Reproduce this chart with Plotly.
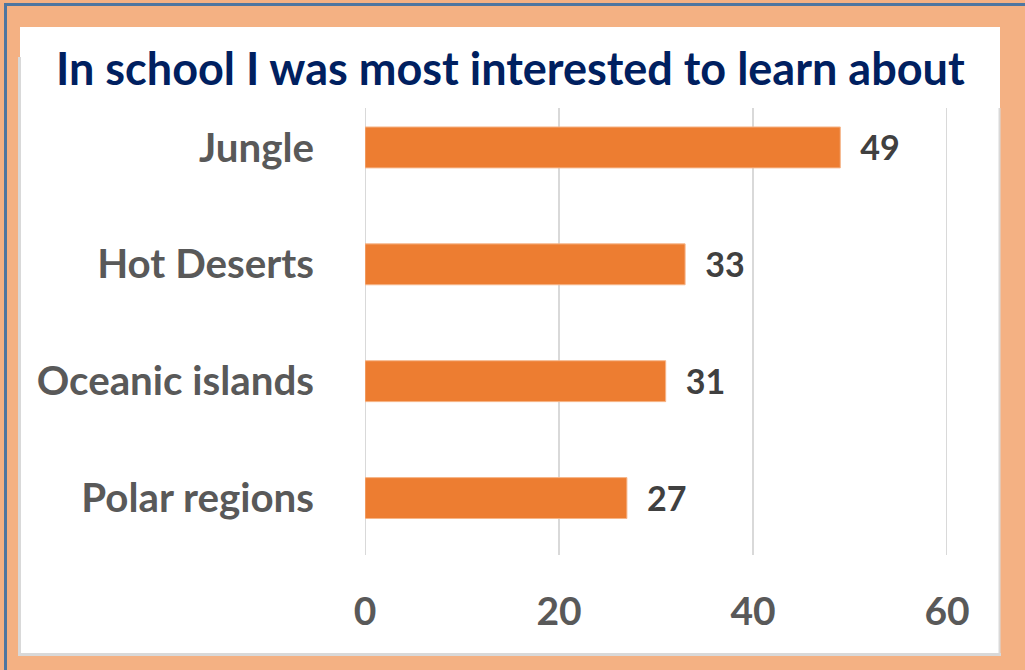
import plotly.graph_objects as go

categories = ["Jungle", "Hot Deserts", "Oceanic islands", "Polar regions"]
values = [49, 33, 31, 27]
tick_vals = [0, 20, 40, 60]
title_text = "In school I was most interested to learn about"

W, H = 1025, 670
FONT = "Lato"
BAR = "#ED7D31"
PEACH = "#F4B183"


def px(x):
    return x / W


def py(y):
    return 1 - y / H


fig = go.Figure()
fig.add_trace(go.Bar(
    x=values, y=categories, orientation="h",
    marker=dict(color=BAR, line=dict(color="#F6B68A", width=1)),
    width=0.35,
    text=[str(v) for v in values], textposition="outside",
    texttemplate="\u2002%{text}",
    textfont=dict(family=FONT, size=40, color="#404040", weight="bold"),
    cliponaxis=False,
))

shapes = []
# outer frame lines
shapes.append(dict(type="line", xref="paper", yref="paper", x0=px(4), x1=1, y0=py(4.5), y1=py(4.5),
                   line=dict(color="#4E76A0", width=3), layer="below"))
shapes.append(dict(type="line", xref="paper", yref="paper", x0=px(5.5), x1=px(5.5), y0=py(3), y1=0,
                   line=dict(color="#4E76A0", width=3), layer="below"))
# white card
shapes.append(dict(type="rect", xref="paper", yref="paper", x0=px(20), x1=px(1000), y0=py(27), y1=py(654),
                   fillcolor="white", line=dict(width=0), layer="below"))
# card shadow edges
shapes.append(dict(type="line", xref="paper", yref="paper", x0=px(19.5), x1=px(19.5), y0=py(57), y1=py(655),
                   line=dict(color="#D9D9D9", width=3), layer="below"))
shapes.append(dict(type="line", xref="paper", yref="paper", x0=px(18), x1=px(1001), y0=py(654.5), y1=py(654.5),
                   line=dict(color="#D9D9D9", width=3), layer="below"))
shapes.append(dict(type="line", xref="paper", yref="paper", x0=px(999.5), x1=px(999.5), y0=py(108), y1=py(655),
                   line=dict(color="#D9D9D9", width=2), layer="below"))
# vertical gridlines
for t in tick_vals:
    shapes.append(dict(type="line", xref="x", yref="paper", x0=t, x1=t, y0=py(555), y1=py(108),
                       line=dict(color="#D9D9D9", width=2), layer="below"))

fig.update_layout(
    width=W, height=H,
    autosize=False,
    margin=dict(l=0, r=0, t=0, b=0, autoexpand=False),
    paper_bgcolor=PEACH,
    plot_bgcolor="rgba(0,0,0,0)",
    showlegend=False,
    shapes=shapes,
    xaxis=dict(domain=[px(365), px(947)], range=[0, 60], tickvals=tick_vals,
               showgrid=False, zeroline=False, showline=False, ticks="",
               automargin=False, ticklabelstandoff=28,
               tickfont=dict(family=FONT, size=39, color="#595959", weight="bold")),
    yaxis=dict(domain=[py(556.5), py(89)], categoryorder="array", categoryarray=categories,
               range=[3.5, -0.5], showgrid=False, zeroline=False, showline=False, ticks="",
               automargin=False, ticklabelstandoff=50,
               tickfont=dict(family=FONT, size=40.3, color="#595959", weight="bold")),
    annotations=[dict(text=title_text, xref="paper", yref="paper", x=px(510), y=py(68),
                      xanchor="center", yanchor="middle", showarrow=False,
                      font=dict(family=FONT, size=45, color="#002060", weight="bold"))],
)

post = """
document.documentElement.style.margin='0';
document.body.style.margin='0';
document.body.style.overflow='hidden';
var gd = document.getElementById('{plot_id}');
Plotly.relayout(gd, {width: 1025, height: 670});
"""

fig.write_html("out.html", config={"responsive": False, "displayModeBar": False}, post_script=post)
